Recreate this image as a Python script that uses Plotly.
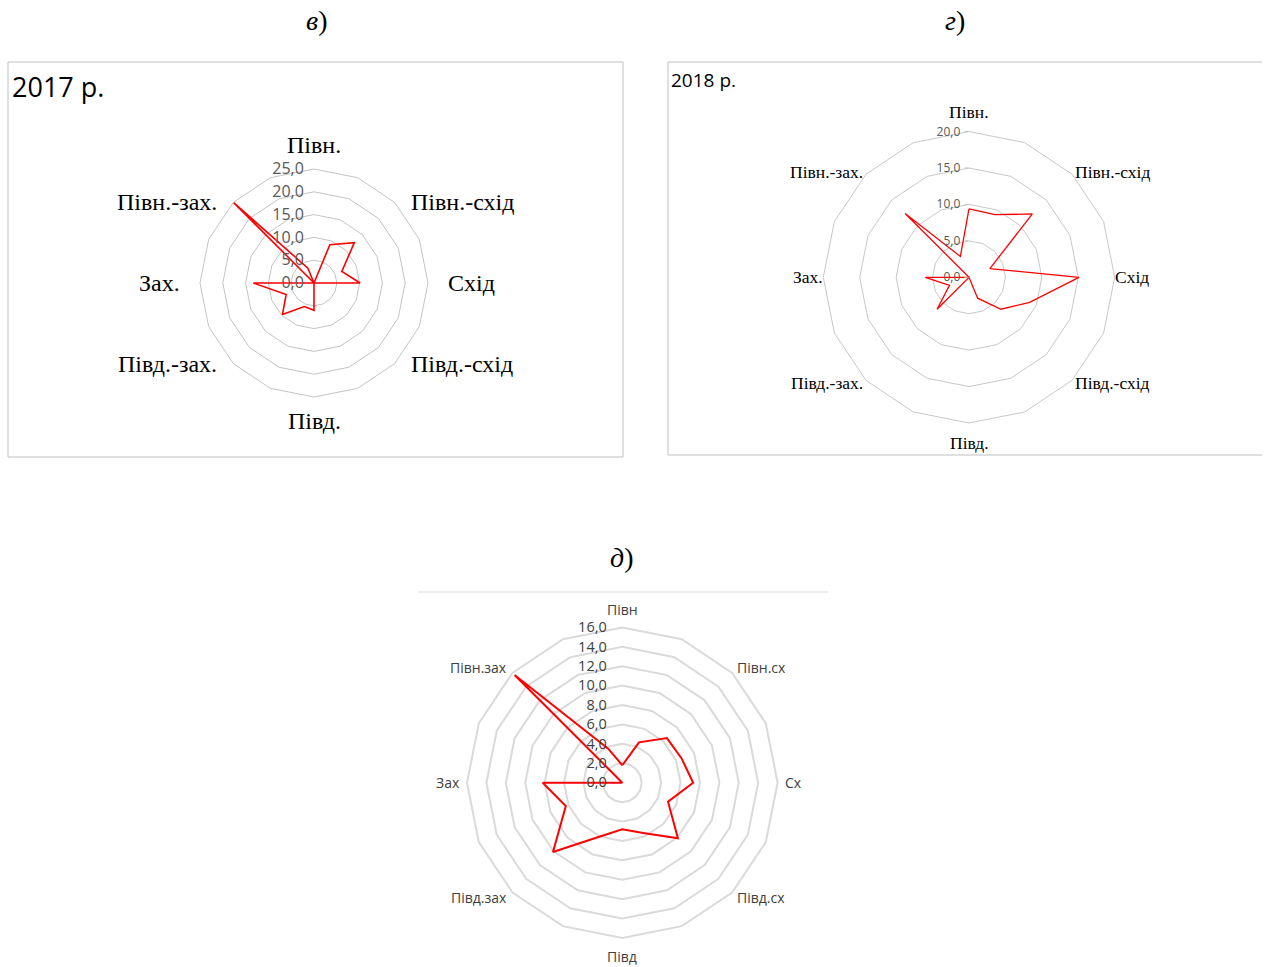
import math
import plotly.graph_objects as go

# 16 compass directions, clockwise from north
directions = ["N", "NNE", "NE", "ENE", "E", "ESE", "SE", "SSE",
              "S", "SSW", "SW", "WSW", "W", "WNW", "NW", "NNW"]

labels_full = ["Півн.", "", "Півн.-схід", "", "Схід", "", "Півд.-схід", "",
               "Півд.", "", "Півд.-зах.", "", "Зах.", "", "Півн.-зах.", ""]
labels_short = ["Півн", "", "Півн.сх", "", "Сх", "", "Півд.сх", "",
                "Півд", "", "Півд.зах", "", "Зах", "", "Півн.зах", ""]

values_2017 = [0.0, 9.1, 12.5, 6.6, 10.1, 0.0, 0.0, 0.0,
               6.0, 5.6, 9.8, 6.6, 13.3, 0.0, 25.0, 3.5]
values_2018 = [9.4, 9.3, 12.3, 3.1, 15.1, 9.0, 6.2, 3.1,
               0.0, 0.0, 6.2, 2.9, 6.0, 0.0, 12.4, 3.1]
values_mean = [1.8, 4.5, 6.5, 6.6, 7.3, 5.1, 8.1, 5.6,
               4.8, 6.0, 10.1, 6.3, 8.2, 0.0, 15.7, 3.8]

W, H = 1266, 967


def px_domain(cx, cy, r):
    return dict(x=[(cx - r) / W, (cx + r) / W],
                y=[1 - (cy + r) / H, 1 - (cy - r) / H])


def closed(vals):
    return list(vals) + [vals[0]], directions + [directions[0]]


fig = go.Figure()

for vals, sub, width in [(values_2017, "polar", 1.6),
                         (values_2018, "polar2", 1.3),
                         (values_mean, "polar3", 2.0)]:
    r, theta = closed(vals)
    fig.add_trace(go.Scatterpolar(r=r, theta=theta, mode="lines",
                                  line=dict(color="#ff0000", width=width),
                                  subplot=sub, showlegend=False))

CLEAR = "rgba(0,0,0,0)"


def polar_layout(dom, rmax, dtick, tick_font, tick_len, tick_col,
                 grid_col, grid_w):
    return dict(
        domain=dom,
        bgcolor="white",
        gridshape="linear",
        angularaxis=dict(type="category", categoryarray=directions,
                         rotation=90, direction="clockwise",
                         showticklabels=False, ticks="",
                         showgrid=False, showline=True, linecolor=grid_col,
                         linewidth=grid_w),
        radialaxis=dict(range=[0, rmax], dtick=dtick, tickformat=".1f",
                        angle=90, side="counterclockwise", tickangle=90,
                        showline=False, ticks="outside", ticklen=tick_len,
                        tickcolor=tick_col, gridcolor=grid_col,
                        gridwidth=grid_w, tickfont=tick_font),
    )


# (centre x, centre y, outer radius) of each radar in pixels
geom_2017 = (314, 283, 114)
geom_2018 = (969, 277.3, 145.7)
geom_mean = (622.3, 782.7, 155.3)

fig.update_layout(
    width=W, height=H,
    margin=dict(l=0, r=0, t=0, b=0),
    paper_bgcolor="white",
    separators=", ",
    polar=polar_layout(px_domain(*geom_2017), 25, 5,
                       dict(family="Open Sans", size=16, color="#595959"),
                       4, CLEAR, "#c4c4c4", 1),
    polar2=polar_layout(px_domain(*geom_2018), 20, 5,
                        dict(family="Open Sans", size=12, color="#595959"),
                        4, "#c0c0c0", "#c8c8c8", 1),
    polar3=polar_layout(px_domain(*geom_mean), 16, 2,
                        dict(family="Open Sans", size=14.5, color="#404040"),
                        10, CLEAR, "#dadada", 2),
)


def direction_labels(geom, labels, font, gap_v, gap_h, gap_d, lift_d):
    """Category labels placed around the outer polygon, spreadsheet style."""
    cx, cy, R = geom
    n = len(labels)
    for k, text in enumerate(labels):
        if not text:
            continue
        ang = math.radians(360 * k / n)
        sx, sy = math.sin(ang), -math.cos(ang)
        px, py = cx + R * sx, cy + R * sy
        if abs(sx) < 1e-6:          # north / south
            x, y, xa = px, py + sy * gap_v, "center"
        elif abs(sy) < 1e-6:        # east / west
            x, y = px + sx * gap_h, py
            xa = "left" if sx > 0 else "right"
        else:                       # diagonals, nudged outwards
            x = px + (gap_d if sx > 0 else -gap_d)
            y = py + (-lift_d if sy < 0 else lift_d)
            xa = "left" if sx > 0 else "right"
        fig.add_annotation(text=text, x=x / W, y=1 - y / H, xref="paper",
                           yref="paper", xanchor=xa, yanchor="middle",
                           showarrow=False, font=font)


direction_labels(geom_2017, labels_full,
                 dict(family="Liberation Serif", size=24, color="black"),
                 24, 18, 14, 0)
direction_labels(geom_2018, labels_full,
                 dict(family="Liberation Serif", size=17.5, color="black"),
                 20, -2, 1, 2.5)
direction_labels(geom_mean, labels_short,
                 dict(family="Open Sans", size=14, color="#404040"),
                 18, 5, 3, 5)

# chart frames
frame = dict(color="#c0c0c0", width=1)
shapes = [
    dict(type="rect", xref="paper", yref="paper",
         x0=8 / W, x1=623 / W, y0=1 - 457 / H, y1=1 - 62 / H, line=frame),
    dict(type="line", xref="paper", yref="paper",
         x0=668 / W, x1=1262 / W, y0=1 - 62 / H, y1=1 - 62 / H, line=frame),
    dict(type="line", xref="paper", yref="paper",
         x0=668 / W, x1=1262 / W, y0=1 - 455 / H, y1=1 - 455 / H, line=frame),
    dict(type="line", xref="paper", yref="paper",
         x0=668 / W, x1=668 / W, y0=1 - 455 / H, y1=1 - 62 / H, line=frame),
    dict(type="line", xref="paper", yref="paper",
         x0=418 / W, x1=828 / W, y0=1 - 592 / H, y1=1 - 592 / H,
         line=dict(color="#d9d9d9", width=1)),
]
fig.update_layout(shapes=shapes)

ann_font = dict(family="Liberation Serif", size=28, color="black")
for text, x, y in [("<i>в</i>)", 316, 20), ("<i>г</i>)", 955, 20),
                   ("<i>д</i>)", 622, 557)]:
    fig.add_annotation(text=text, x=x / W, y=1 - y / H, xref="paper",
                       yref="paper", xanchor="center", yanchor="middle",
                       showarrow=False, font=ann_font)

fig.add_annotation(text="2017 р.", x=10 / W, y=1 - 86 / H, xref="paper",
                   yref="paper", xanchor="left", yanchor="middle",
                   showarrow=False,
                   font=dict(family="Open Sans", size=27, color="black"))
fig.add_annotation(text="2018 р.", x=669 / W, y=1 - 80 / H, xref="paper",
                   yref="paper", xanchor="left", yanchor="middle",
                   showarrow=False,
                   font=dict(family="Open Sans", size=19, color="black"))

fig.write_html("out.html")
